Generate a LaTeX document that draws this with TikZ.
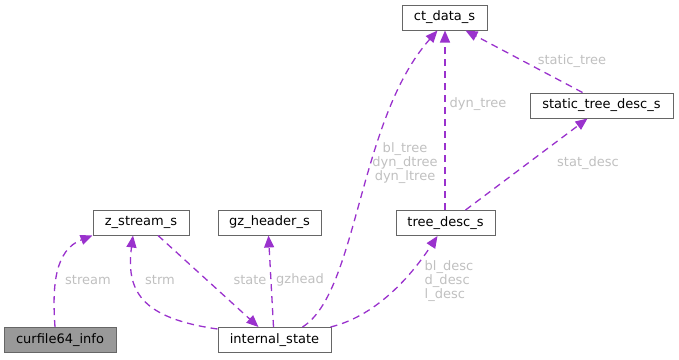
\documentclass[tikz,border=0pt]{standalone}
\usepackage{fontspec}
\setmainfont{DejaVu Sans}
\usetikzlibrary{arrows.meta}
\definecolor{edgecol}{HTML}{9A32CD}
\definecolor{labelcol}{HTML}{C0C0C0}
\definecolor{boxcol}{HTML}{666666}
\tikzset{box/.style={draw=boxcol, line width=1pt, minimum width=#1, minimum height=25pt,
    inner sep=2pt, font=\fontsize{13}{14}\selectfont}}
\tikzset{member/.style={edgecol, dashed, dash pattern=on 7pt off 5pt, line width=1.3pt,
    -{Triangle[length=12pt, width=10pt]}}}
\tikzset{edgelabel/.style={labelcol, font=\fontsize{13}{14}\selectfont, inner sep=0pt}}

\begin{document}
\begin{tikzpicture}[x=1pt, y=1pt]
    \useasboundingbox (0, 0) rectangle (679, -359);
    \node[box=85pt] (ctdata) at (444.5, -17.5) {ct\_data\_s};
    \node[box=143pt] (stattree) at (601.5, -105.5) {static\_tree\_desc\_s};
    \node[box=96pt] (zstream) at (141, -222.5) {z\_stream\_s};
    \node[box=103pt] (gzheader) at (269.5, -222.5) {gz\_header\_s};
    \node[box=99pt] (treedesc) at (445.5, -223) {tree\_desc\_s};
    \node[box=112pt, fill=black!40] (curfile) at (60, -340) {curfile64\_info};
    \node[box=113pt] (intstate) at (274.5, -340) {internal\_state};

    \draw[member] ([xshift=-5pt]curfile.north)
        .. controls (52, -285) and (55, -250) .. (zstream.south west);
    \draw[member] ([yshift=-2pt]intstate.north west)
        .. controls (140, -318) and (126, -290) .. ([xshift=-8pt]zstream.south);
    \draw[member] ([xshift=17pt]zstream.south) -- ([xshift=-16pt]intstate.north);
    \draw[member] ([xshift=-1pt]intstate.north) -- ([xshift=-1pt]gzheader.south);
    \draw[member] ([xshift=28pt]intstate.north)
        .. controls (358, -292) and (358, -120) .. ([xshift=-7pt]ctdata.south);
    \draw[member] ([xshift=-1pt]intstate.north east)
        .. controls (380, -315) and (415, -270) .. ([xshift=-8pt]treedesc.south);
    \draw[member] ([xshift=-0.5pt]treedesc.north) -- ([xshift=0.5pt]ctdata.south);
    \draw[member] ([xshift=20pt]treedesc.north) -- ([xshift=-14pt]stattree.south);
    \draw[member] ([xshift=-19pt]stattree.north) -- ([xshift=21pt]ctdata.south);

    % member names
    \node[edgelabel] (lstream) at (88, -280) {stream};
    \node[edgelabel] (lstrm) at (160, -280) {strm};
    \node[edgelabel] (lstate) at (250, -280) {state};
    \node[edgelabel] (lgzhead) at (300, -280) {gzhead};
    \node[edgelabel, align=center] (ltree) at (405, -163) {bl\_tree\\dyn\_dtree\\dyn\_ltree};
    \node[edgelabel, align=left] (ldesc) at (449, -281) {bl\_desc\\d\_desc\\l\_desc};
    \node[edgelabel] (ldyn) at (478, -104) {dyn\_tree};
    \node[edgelabel] (lstat) at (588, -163) {stat\_desc};
    \node[edgelabel] (lstatic) at (572, -61) {static\_tree};
\end{tikzpicture}
\end{document}
